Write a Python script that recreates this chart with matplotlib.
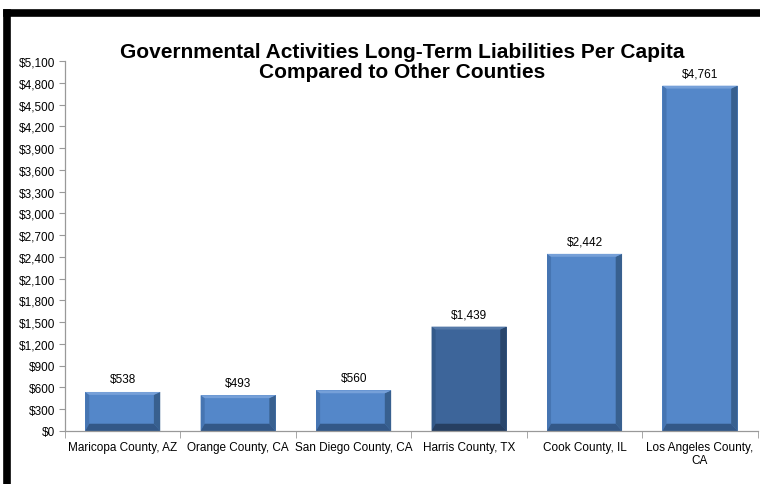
import matplotlib
matplotlib.use('Agg')
import matplotlib.pyplot as plt
import matplotlib.patches as patches
from matplotlib.lines import Line2D
from matplotlib.ticker import FuncFormatter, MultipleLocator, FixedLocator

plt.rcParams['font.family'] = ['Liberation Sans Narrow', 'Liberation Sans', 'DejaVu Sans']

counties = ['Maricopa County, AZ', 'Orange County, CA', 'San Diego County, CA',
            'Harris County, TX', 'Cook County, IL', 'Los Angeles County,\nCA']
per_capita = [538, 493, 560, 1439, 2442, 4761]
highlight = 'Harris County, TX'

fig = plt.figure(figsize=(7.6, 4.85), dpi=100)
ax = fig.add_axes([0.0855, 0.1093, 0.9115, 0.7627])

# black frame on the left and top
fig.add_artist(Line2D([0.009, 0.009], [0, 0.971], transform=fig.transFigure,
                      color='black', lw=5.5, solid_capstyle='projecting'))
fig.add_artist(Line2D([0.009, 1.0], [0.971, 0.971], transform=fig.transFigure,
                      color='black', lw=5.5, solid_capstyle='projecting'))

w = 0.65
bl = 0.035     # left bevel, category units
br = 0.055     # right bevel
by_bot = 100   # bottom bevel, dollars
by_top = 40
for i, (name, v) in enumerate(zip(counties, per_capita)):
    if name == highlight:
        face, left, right, bot, top = '#3d659a', '#345a8a', '#29466c', '#263f62', '#5579a8'
    else:
        face, left, right, bot, top = '#5487c9', '#4675b2', '#38608f', '#335888', '#76a0d8'
    x0, x1 = i - w / 2, i + w / 2
    ax.add_patch(patches.Rectangle((x0, 0), w, v, fc=face, ec='none'))
    ax.add_patch(patches.Polygon([(x0, 0), (x0 + bl, by_bot), (x0 + bl, v - by_top), (x0, v)],
                                 fc=left, ec='none'))
    ax.add_patch(patches.Polygon([(x1, 0), (x1 - br, by_bot), (x1 - br, v - by_top), (x1, v)],
                                 fc=right, ec='none'))
    ax.add_patch(patches.Polygon([(x0, 0), (x1, 0), (x1 - br, by_bot), (x0 + bl, by_bot)],
                                 fc=bot, ec='none'))
    ax.add_patch(patches.Polygon([(x0, v), (x1, v), (x1 - br, v - by_top), (x0 + bl, v - by_top)],
                                 fc=top, ec='none'))
    ax.text(i, v + 90, '${:,}'.format(v), ha='center', va='bottom', fontsize=8.5)

ax.set_xlim(-0.5, len(counties) - 0.5)
ax.set_ylim(0, 5100)
ax.yaxis.set_major_locator(MultipleLocator(300))
ax.yaxis.set_major_formatter(FuncFormatter(lambda v, p: '${:,.0f}'.format(v)))
ax.set_xticks(range(len(counties)))
ax.set_xticklabels(counties, fontsize=8.5, linespacing=1.1)
ax.xaxis.set_minor_locator(FixedLocator([k - 0.5 for k in range(len(counties) + 1)]))
ax.tick_params(axis='x', which='major', length=0, pad=7)
ax.tick_params(axis='x', which='minor', length=5, color='#999999')
ax.tick_params(axis='y', length=4, color='#999999', labelsize=8.5, pad=3)

for s in ['top', 'right']:
    ax.spines[s].set_visible(False)
for s in ['left', 'bottom']:
    ax.spines[s].set_color('#999999')
    ax.spines[s].set_linewidth(0.9)

fig.text(0.529, 0.912, 'Governmental Activities Long-Term Liabilities Per Capita\nCompared to Other Counties',
         ha='center', va='top', fontsize=15, fontweight='bold', family=['Liberation Sans', 'DejaVu Sans'],
         linespacing=1.08)

fig.savefig('out.png', dpi=100)
